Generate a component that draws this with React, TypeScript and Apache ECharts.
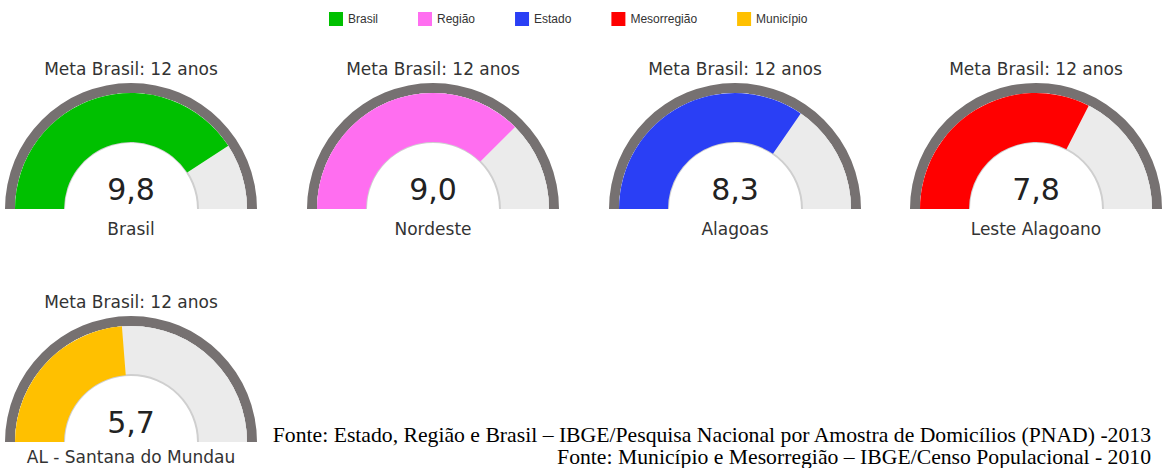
import React, { useEffect, useRef } from "react";
import * as echarts from "echarts";

const gaugeNames = ["Brasil", "Nordeste", "Alagoas", "Leste Alagoano", "AL - Santana do Mundau"];
const gaugeValues = [9.8, 9.0, 8.3, 7.8, 5.7];
const legendNames = ["Brasil", "Região", "Estado", "Mesorregião", "Município"];
const colors = ["#00c000", "#ff6ef0", "#2a3ff5", "#ff0000", "#ffc000"];
const goalLabel = "Meta Brasil: 12 anos";
const maxValue = 12;
const sourceLines = [
  "Fonte: Estado, Região e Brasil – IBGE/Pesquisa Nacional por Amostra de Domicílios (PNAD) -2013",
  "Fonte: Município e Mesorregião – IBGE/Censo Populacional - 2010",
];

const centers: [number, number][] = [
  [131, 209],
  [433, 209],
  [735, 209],
  [1036, 209],
  [131, 442],
];
const labelOffsets = [20, 20, 20, 20, 15];

const uiFont = "DejaVu Sans";

export default function App() {
  const ref = useRef<HTMLDivElement>(null);
  useEffect(() => {
    if (!ref.current) return;
    const chart = echarts.init(ref.current, undefined, { renderer: "svg" });
    const hidden = {
      pointer: { show: false },
      axisTick: { show: false },
      splitLine: { show: false },
      axisLabel: { show: false },
      anchor: { show: false },
    };
    const series: any[] = [];
    gaugeValues.forEach((v, i) => {
      series.push({
        type: "gauge",
        name: "ring" + i,
        silent: true,
        center: centers[i],
        radius: 126,
        startAngle: 180,
        endAngle: 0,
        min: 0,
        max: maxValue,
        axisLine: { lineStyle: { width: 10, color: [[1, "#767171"]] } },
        ...hidden,
        title: { show: false },
        detail: { show: false },
        data: [],
      });
      series.push({
        type: "gauge",
        name: "border" + i,
        silent: true,
        center: centers[i],
        radius: 116,
        startAngle: 180,
        endAngle: 0,
        min: 0,
        max: maxValue,
        axisLine: { lineStyle: { width: 50, color: [[1, "#cfcfcf"]] } },
        ...hidden,
        title: { show: false },
        detail: { show: false },
        data: [],
      });
      series.push({
        type: "gauge",
        name: legendNames[i],
        silent: true,
        center: centers[i],
        radius: 116,
        startAngle: 180,
        endAngle: 0,
        min: 0,
        max: maxValue,
        progress: { show: true, width: 49, itemStyle: { color: colors[i] } },
        axisLine: { lineStyle: { width: 48, color: [[1, "#ebebeb"]] } },
        ...hidden,
        title: { offsetCenter: [0, labelOffsets[i]], fontSize: 17, color: "#333", fontFamily: uiFont },
        detail: {
          offsetCenter: [0, -20],
          fontSize: 30,
          color: "#222",
          fontFamily: uiFont,
          fontWeight: "normal",
          formatter: (val: number) => val.toFixed(1).replace(".", ","),
        },
        data: [{ value: v, name: gaugeNames[i] }],
      });
    });

    const graphics: any[] = centers.map((c) => ({
      type: "text",
      x: c[0],
      y: c[1] - 140,
      style: {
        text: goalLabel,
        fill: "#333",
        fontSize: 17,
        fontFamily: uiFont,
        align: "center",
        verticalAlign: "middle",
      },
    }));
    sourceLines.forEach((t, i) => {
      graphics.push({
        type: "text",
        x: 1151,
        y: 435 + i * 22,
        style: {
          text: t,
          fill: "#000",
          fontSize: 21.7,
          fontFamily: "Liberation Serif",
          align: "right",
          verticalAlign: "middle",
        },
      });
    });

    chart.setOption({
      animation: false,
      backgroundColor: "#ffffff",
      legend: {
        left: 329,
        top: 12,
        padding: 0,
        icon: "rect",
        itemWidth: 14,
        itemHeight: 14,
        itemGap: 40,
        selectedMode: false,
        textStyle: { fontSize: 12, fontFamily: "Liberation Sans", color: "#333" },
        data: legendNames.map((n, i) => ({ name: n, itemStyle: { color: colors[i] } })),
      },
      graphic: graphics,
      series,
    });
    return () => chart.dispose();
  }, []);
  return (
    <div
      ref={ref}
      style={{ position: "fixed", left: 0, top: 0, width: 1163, height: 468 }}
    />
  );
}
